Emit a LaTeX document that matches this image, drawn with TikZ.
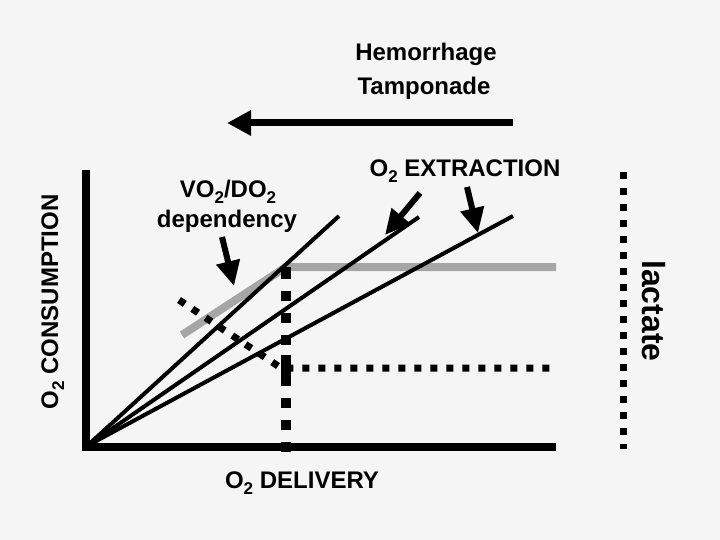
\documentclass[tikz,border=0pt]{standalone}
\usepackage{fontspec}
\setmainfont{Liberation Sans}
\usetikzlibrary{arrows.meta}
\newcommand{\sbtwo}{\raisebox{-6pt}{\fontsize{17}{17}\selectfont 2}}

\begin{document}
\begin{tikzpicture}[x=1pt,y=-1pt,
    lbl/.style={font=\bfseries\fontsize{24}{28}\selectfont, anchor=base, inner sep=0pt},
    curve/.style={line width=4pt},
    ptr/.style={line width=6pt, -{Triangle[length=25pt,width=23pt]}},
    dots/.style={line width=7pt, dash pattern=on 7pt off 9pt}]
\fill[black!4] (0,0) rectangle (720,540);
\useasboundingbox (0,0) rectangle (720,540);

% texts
\node[lbl] (hem) at (426,61) {Hemorrhage};
\node[lbl] (tam) at (424,95) {Tamponade};
\node[lbl] (vodo) at (228,197) {VO\sbtwo/DO\sbtwo};
\node[lbl] (dep) at (227,228) {dependency};
\node[lbl] (extr) at (465,177) {O\sbtwo{} EXTRACTION};
\node[lbl] (deliv) at (302,488) {O\sbtwo{} DELIVERY};
\node[lbl, rotate=90] (cons) at (58,302) {O\sbtwo{} CONSUMPTION};
\node[lbl, rotate=-90, font=\bfseries\fontsize{32}{36}\selectfont] (lac) at (642,311) {lactate};

\coordinate (orig) at (87,446);
\coordinate (knee) at (286,267);

% plateau
\draw[black!35, line width=8pt] (182,335) -- (knee) -- (556,267);

% axes
\draw[line width=8pt] (86,170) -- (86,447) -- (556,447);

\draw[line width=10pt, dash pattern=on 10pt off 12pt on 10pt off 12pt on 10pt off 12pt on 31pt off 10pt] (286,452) -- (knee);

\draw[curve] (orig) -- (339,216);
\draw[curve] (orig) -- (419,217);
\draw[curve] (orig) -- (513,216);

\draw[dots] (179,300) -- (281,368) -- (556,368);
\draw[dots] (623,172) -- (623,449);

% arrows
\draw[line width=7pt, -{Triangle[length=24pt,width=24pt]}] (513,123) -- (227,123);
\draw[ptr] (222,237) -- (234,286);
\draw[ptr] (420,193) -- (385,235);
\draw[ptr] (467,187) -- (478,233);

\end{tikzpicture}
\end{document}
